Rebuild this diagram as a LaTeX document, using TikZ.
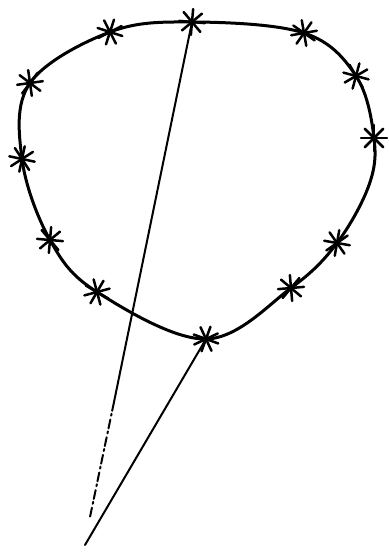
\documentclass[tikz,border=0pt]{standalone}
\usepackage{tikz}
\usetikzlibrary{calc}

\tikzset{
  loopline/.style={line width=3pt, line cap=round, line join=round},
  rayline/.style={line width=2pt, line cap=round},
  ray/.style={line width=2.5pt, line cap=round}
}

\begin{document}
\begin{tikzpicture}[x=1pt,y=-1pt]

    \useasboundingbox (0,0) rectangle (388,553);

    % --- points on the loop ---
    \coordinate (ptop) at (192,22);
    \coordinate (p2) at (304,33);
    \coordinate (p3) at (356,76);
    \coordinate (p4) at (374,138);
    \coordinate (p5) at (337,243);
    \coordinate (p6) at (291,288);
    \coordinate (pbot) at (206,339);
    \coordinate (p8) at (97,292);
    \coordinate (p9) at (50,240);
    \coordinate (p10) at (22,159);
    \coordinate (p11) at (30,83);
    \coordinate (p12) at (110,32);

    % --- free ends of the lines ---
    \coordinate (gap) at (114,402);
    \coordinate (foota) at (90,517);
    \coordinate (footb) at (85,545);

    % --- the loop ---
    \draw[loopline] plot[smooth cycle, tension=0.6] coordinates {
        (ptop) (p2) (p3) (p4) (369,185) (p5) (p6) (pbot)
        (p8) (p9) (p10) (p11) (p12)};

    % --- lines ---
    \draw[rayline] (ptop) -- (gap);
    \draw[rayline, dash pattern=on 9pt off 3pt on 2pt off 4pt] (gap) -- (foota);
    \draw[rayline] (pbot) -- (footb);

    % --- asterisks ---
    \foreach \p/\r in {ptop/5, p2/-10, p3/15, p4/0, p5/10, p6/-5,
                       pbot/20, p8/-15, p9/5, p10/12, p11/-8, p12/18}
      \foreach \a in {0,45,90,135}
        \draw[ray] ($(\p)+(\a+\r:13)$) -- ($(\p)+(\a+\r+180:13)$);

\end{tikzpicture}
\end{document}
